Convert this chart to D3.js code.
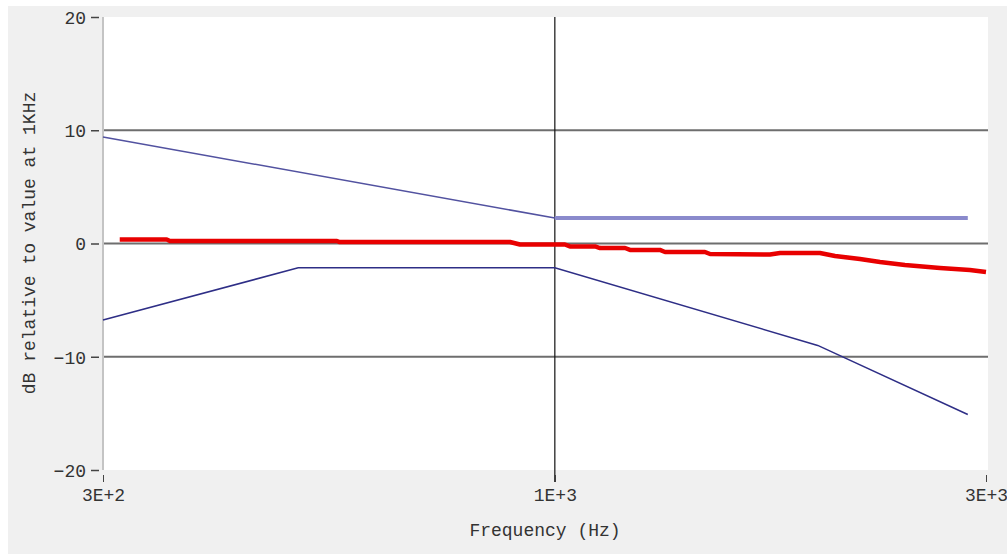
<!DOCTYPE html>
<html><head><meta charset="utf-8">
<script src="https://cdn.jsdelivr.net/npm/d3@7"></script>
<style>html,body{margin:0;padding:0;background:#fff;}svg{display:block;}</style>
</head><body>
<script>
// ---- data ----
const xDomain = [316.23, 3000];
const xTickValues = [316.23, 1000, 3000];
const xTickLabels = ["3E+2", "1E+3", "3E+3"];
const yDomain = [-20, 20];
const yTickValues = [-20, -10, 0, 10, 20];
const yGridValues = [-10, 0, 10];

const upperFreq = [316.23, 1000];
const upperDb = [9.4, 2.25];
const upperFlatFreq = [1000, 2864];
const upperFlatDb = [2.25, 2.25];

const lowerFreq = [316.23, 520, 1000, 1954, 2864];
const lowerDb = [-6.75, -2.15, -2.15, -9.0, -15.1];

const respFreq = [330, 372, 375, 574, 578, 892, 915, 1026, 1039, 1108, 1122, 1196, 1211, 1307, 1324, 1466, 1485, 1730, 1775, 1965, 2042, 2176, 2290, 2440, 2668, 2879, 3000];
const respDb = [0.35, 0.35, 0.22, 0.22, 0.13, 0.13, -0.09, -0.09, -0.26, -0.26, -0.40, -0.40, -0.57, -0.57, -0.75, -0.75, -0.93, -0.97, -0.84, -0.84, -1.10, -1.37, -1.63, -1.90, -2.16, -2.34, -2.52];

// ---- layout ----
const W = 1007, H = 554;
const L = 103, R = 988, T = 17, B = 470;
const font = "'Liberation Mono', 'DejaVu Sans Mono', monospace";

const svg = d3.select("body").append("svg").attr("width", W).attr("height", H);
svg.append("rect").attr("x", 0).attr("y", 0).attr("width", W).attr("height", H).attr("fill", "#ffffff");
svg.append("rect").attr("x", 8).attr("y", 6).attr("width", W - 8).attr("height", H - 6).attr("fill", "#f0f0f0");
svg.append("rect").attr("x", L).attr("y", T).attr("width", R - L).attr("height", B - T).attr("fill", "#ffffff");

const x = d3.scaleLog().domain(xDomain).range([L, 986]);
const y = d3.scaleLinear().domain(yDomain).range([B, T]);

// horizontal grid
svg.append("g").selectAll("line").data(yGridValues).join("line")
  .attr("x1", L).attr("x2", R)
  .attr("y1", d => y(d)).attr("y2", d => y(d))
  .attr("stroke", "#6e6e6e").attr("stroke-width", 2);

// left axis line
svg.append("line").attr("x1", L).attr("x2", L).attr("y1", T).attr("y2", B)
  .attr("stroke", "#c4c4c4").attr("stroke-width", 2);

// y axis
const yAxis = d3.axisLeft(y).tickValues(yTickValues).tickSize(8).tickPadding(5).tickFormat(d3.format("d"));
const gy = svg.append("g").attr("transform", `translate(${L - 4},0)`).call(yAxis);
gy.select(".domain").remove();
gy.selectAll(".tick line").attr("stroke", "#444").attr("stroke-width", 1.5);
gy.selectAll(".tick text").attr("font-family", font).attr("font-size", 18).attr("fill", "#333").attr("dy", "0.35em");

// x axis
const xAxis = d3.axisBottom(x).tickValues(xTickValues).tickSize(7).tickPadding(6)
  .tickFormat((d, i) => xTickLabels[i]);
const gx = svg.append("g").attr("transform", `translate(0,${B + 5})`).call(xAxis);
gx.select(".domain").remove();
gx.selectAll(".tick line").attr("stroke", "#444").attr("stroke-width", 1);
gx.selectAll(".tick text").attr("font-family", font).attr("font-size", 18).attr("fill", "#333");

// vertical line at 1 kHz
svg.append("line").attr("x1", x(1000)).attr("x2", x(1000)).attr("y1", T).attr("y2", B + 12)
  .attr("stroke", "#111").attr("stroke-width", 1.2);

const line = d3.line().x(d => x(d[0])).y(d => y(d[1]));

// lower limit
svg.append("path").datum(d3.zip(lowerFreq, lowerDb)).attr("d", line)
  .attr("fill", "none").attr("stroke", "#2e2e86").attr("stroke-width", 1.5);
// upper limit
svg.append("path").datum(d3.zip(upperFreq, upperDb)).attr("d", line)
  .attr("fill", "none").attr("stroke", "#5252a0").attr("stroke-width", 1.5);
svg.append("path").datum(d3.zip(upperFlatFreq, upperFlatDb)).attr("d", line)
  .attr("fill", "none").attr("stroke", "#8a8acc").attr("stroke-width", 4);
// response
svg.append("path").datum(d3.zip(respFreq, respDb)).attr("d", line)
  .attr("fill", "none").attr("stroke", "#e80000").attr("stroke-width", 4.5)
  .attr("stroke-linejoin", "round");

// axis titles
svg.append("text").attr("x", 545).attr("y", 536).attr("text-anchor", "middle")
  .attr("font-family", font).attr("font-size", 18).attr("fill", "#333").text("Frequency (Hz)");
svg.append("text").attr("transform", "translate(35,243) rotate(-90)").attr("text-anchor", "middle")
  .attr("font-family", font).attr("font-size", 18).attr("fill", "#333").text("dB relative to value at 1KHz");
</script>
</body></html>
